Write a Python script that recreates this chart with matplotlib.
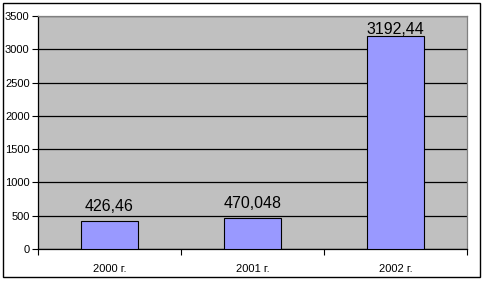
import numpy as np
import matplotlib.pyplot as plt
from matplotlib.patches import Rectangle

years = ["2000 г.", "2001 г.", "2002 г."]
values = [426.46, 470.048, 3192.44]
value_labels = ["426,46", "470,048", "3192,44"]
yticks = [0, 500, 1000, 1500, 2000, 2500, 3000, 3500]

plt.rcParams['font.family'] = ['Liberation Sans', 'DejaVu Sans']

fig = plt.figure(figsize=(4.85, 2.81), dpi=100)
# outer chart border
fig.patches.append(Rectangle((3 / 485, 4 / 281), 477 / 485, 274 / 281,
                             transform=fig.transFigure, fill=False,
                             edgecolor='black', linewidth=1))

ax = fig.add_axes([38 / 485, 1 - 249 / 281, 429 / 485, 233 / 281])
ax.set_facecolor('#C0C0C0')

x = np.arange(len(years))
ax.bar(x, values, width=0.405, color='#9999FF', edgecolor='black',
       linewidth=0.8, zorder=3)

ax.set_xlim(-0.5, 2.5)
ax.set_ylim(0, 3500)

# data labels: ~10px above the bar, pushed down when near the top (like Excel)
top_px = ax.transAxes.transform((0, 1))[1]
for xi, v, lab in zip(x, values, value_labels):
    bar_px = ax.transData.transform((xi, v))[1]
    off_px = min(10, (top_px - bar_px) - 17.5)
    ax.annotate(lab, (xi, v), xytext=(0, off_px * 72 / 100),
                textcoords='offset points', ha='center', va='baseline',
                fontsize=11.5)

ax.set_yticks(yticks)
ax.set_yticklabels([str(t) for t in yticks], fontsize=8)
ax.yaxis.grid(True, color='black', linewidth=0.9, zorder=0)
ax.set_axisbelow(True)

ax.set_xticks(x)
ax.set_xticklabels(years, fontsize=8)
ax.set_xticks([-0.5, 0.5, 1.5, 2.5], minor=True)
ax.tick_params(axis='x', which='major', length=0, pad=11)
ax.tick_params(axis='x', which='minor', length=4, width=0.8)
ax.tick_params(axis='y', length=4, width=0.8, pad=2)

for s in ['top', 'right']:
    ax.spines[s].set_color('#808080')
    ax.spines[s].set_linewidth(0.9)
for s in ['left', 'bottom']:
    ax.spines[s].set_color('black')
    ax.spines[s].set_linewidth(0.9)

fig.savefig('out.png', dpi=100)
